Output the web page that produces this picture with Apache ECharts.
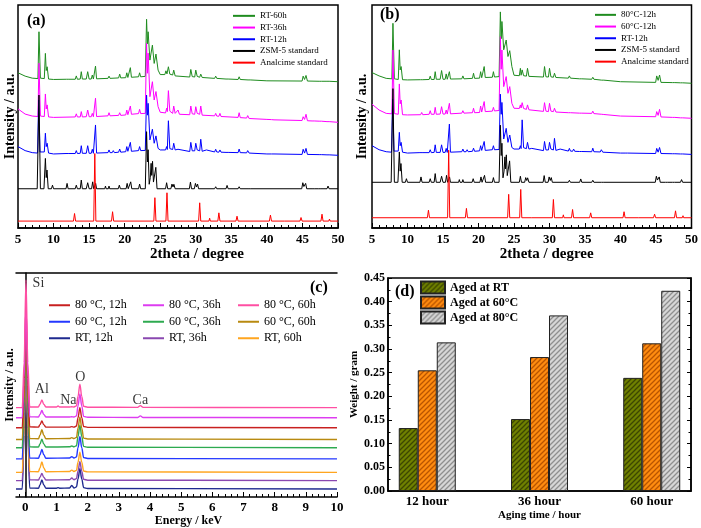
<!DOCTYPE html>
<html><head><meta charset="utf-8">
<script src="https://cdn.jsdelivr.net/npm/echarts@6/dist/echarts.min.js"></script>
<style>html,body{margin:0;padding:0;background:#fff}#c{width:701px;height:528px}</style>
</head><body><div id="c"></div>
<script>
const FONT = 'Liberation Serif';

// ---------- (a)/(b) XRD patterns: [2theta, relative intensity] ----------
const xrdTicks = [5,10,15,20,25,30,35,40,45,50];
const analcime = [[5,0],[12.8,0],[12.95,3.4],[13.1,0],[15.65,0],[15.8,30.3],[15.95,0],[18.15,0],[18.3,4.2],[18.45,0],[24.1,0],[24.25,10.5],[24.4,0],[25.8,0],[25.95,12.7],[26.1,0],[27.5,0],[27.6,0.7],[27.7,0],[30.4,0],[30.55,8.2],[30.7,0],[31.85,0],[31.95,1.3],[32.05,0],[33.1,0],[33.25,3.7],[33.4,0],[35.65,0],[35.8,2.2],[35.95,0],[40.35,0],[40.5,2.7],[40.65,0],[42.5,0],[42.6,0.4],[42.7,0],[44.65,0],[44.8,1.6],[44.95,0],[47.6,0],[47.75,3.1],[47.9,0],[48.7,0],[48.8,0.9],[48.9,0],[50,0]];
const zsm5 = [[5,0],[7.7,0],[7.95,42],[8.15,0],[8.65,0],[8.85,13.6],[8.97,5],[9.08,8.4],[9.25,0],[9.7,0],[9.85,1.6],[10,0],[11.75,0],[11.9,2.4],[12.05,0],[13.05,0],[13.2,1.6],[13.35,0],[13.75,0],[13.9,3.9],[14.05,0],[14.6,0],[14.8,2.7],[15.0,0],[15.35,0],[15.5,3.1],[15.65,0],[15.8,0],[15.92,2.4],[16.05,0],[17.2,0],[17.3,1.2],[17.4,0],[17.7,0],[17.8,1.2],[17.9,0],[19.1,0],[19.25,1.6],[19.4,0],[20.2,0],[20.35,2.4],[20.5,0],[20.7,0],[20.85,3.1],[21.0,0],[21.95,0],[22.1,2.1],[22.25,0],[22.9,0],[23.08,25.6],[23.2,12],[23.3,17.5],[23.45,2],[23.6,5],[23.72,11.4],[23.8,6],[23.92,12.3],[24.05,3],[24.25,3],[24.38,9.6],[24.55,0],[25.75,0],[25.9,2.7],[26.05,0],[26.5,0],[26.65,2.1],[26.8,0.8],[26.92,2],[27.1,0],[29.1,0],[29.25,3],[29.4,0],[29.8,0],[29.95,2.4],[30.1,0.8],[30.25,2.1],[30.4,0],[32.65,0],[32.8,0.9],[32.95,0],[34.25,0],[34.4,1.5],[34.55,0],[35.95,0],[36.1,0.9],[36.25,0],[37.35,0],[37.5,0.7],[37.65,0],[44.9,0],[45.05,2.7],[45.2,1],[45.45,2.4],[45.6,0],[46.35,0],[46.5,0.6],[46.65,0],[47.3,0],[47.45,0.6],[47.6,0],[48.45,0],[48.6,1.2],[48.75,0],[50,0]];
const rt12h = [[5,3.9],[6,2.1],[7,1.2],[7.75,1.0],[7.9,24.8],[8.1,1.5],[8.7,1.5],[8.85,9.9],[8.97,3.9],[9.1,5.4],[9.3,1],[10,0.6],[11.75,0.8],[11.9,1.2],[12.05,0.8],[13.05,0.8],[13.2,2.1],[13.35,0.8],[13.75,0.9],[13.9,4.3],[14.05,0.9],[14.6,0.9],[14.8,4.3],[15,0.9],[15.3,0.9],[15.45,2.7],[15.6,0.9],[15.75,0.9],[15.9,13.6],[16.05,1],[17.65,1.2],[17.8,2.4],[17.95,1.2],[18.25,1.2],[18.4,2.1],[18.55,1.2],[19.15,1.4],[19.3,2.8],[19.45,1.4],[20.15,1.6],[20.3,3.9],[20.45,1.8],[20.65,1.8],[20.8,5.8],[20.95,1.8],[21.95,2.1],[22.1,3.9],[22.25,2.1],[22.9,2.2],[23.08,27],[23.2,18],[23.3,23.3],[23.55,6.9],[23.9,11.7],[24.15,5.4],[24.4,8.7],[24.7,3.1],[25,2.4],[25.75,2.4],[25.9,3.9],[26.0,2.6],[26.15,15.5],[26.35,3],[26.75,2.6],[26.9,5.4],[27.1,2.4],[27.5,2.7],[27.7,2],[29.15,1.7],[29.3,5.8],[29.5,2],[29.85,2],[30.0,5.4],[30.2,2.4],[30.55,2],[30.7,7.2],[30.9,1.8],[31.5,2.4],[31.7,1.6],[32.65,1.5],[32.8,2.7],[32.95,1.5],[33.25,1.4],[33.4,2.4],[33.55,1.4],[34.25,1.3],[34.4,2.1],[34.55,1.3],[35.95,1.2],[36.1,2.8],[36.25,1.2],[37.15,1.1],[37.3,2.1],[37.5,1.0],[40,0.6],[40.65,0.6],[40.8,1.2],[41,0.6],[44.95,0.4],[45.1,2.7],[45.3,1],[45.5,3.1],[45.7,0.4],[47.35,0.3],[47.5,0.6],[47.65,0.3],[48.45,0.2],[48.6,0.6],[48.75,0.2],[50,0]];
const rt36h = [[5,6],[6,3.7],[7,2.8],[7.8,2.6],[7.95,26.5],[8.15,2.8],[8.7,2.6],[8.85,12.7],[8.97,6],[9.1,7.8],[9.3,2.4],[10,2.2],[13.05,2.4],[13.2,3.8],[13.35,2.4],[13.75,2.4],[13.9,4.8],[14.05,2.4],[14.6,2.5],[14.8,5.5],[15,2.5],[15.3,2.5],[15.45,4],[15.6,2.5],[15.75,2.5],[15.9,10.8],[16.05,2.6],[17.65,2.9],[17.8,4.3],[17.95,2.9],[19.15,3.1],[19.3,4.3],[19.45,3.1],[20.15,3.3],[20.3,5.5],[20.45,3.4],[20.65,3.4],[20.8,7.3],[20.95,3.6],[21.95,3.9],[22.1,5.8],[22.25,3.9],[22.9,4],[23.08,35.4],[23.2,22],[23.3,31],[23.55,11.5],[23.9,18.2],[24.15,10],[24.4,13.8],[24.7,7],[25,4.5],[25.75,4.2],[25.9,6.3],[26.0,4.8],[26.15,14.2],[26.35,5],[26.75,4],[26.9,7.3],[27.1,4],[27.5,5.5],[27.7,3.6],[29.15,3.4],[29.3,7.3],[29.5,3.8],[29.85,3.6],[30.0,7],[30.2,4],[30.55,3.6],[30.7,7.3],[30.9,3.2],[32.65,2.9],[32.8,4],[32.95,2.8],[33.25,2.7],[33.4,4],[33.55,2.6],[35.95,2.2],[36.1,4.3],[36.25,2.1],[37.15,1.9],[37.3,3],[37.5,1.7],[40,1.3],[40.65,1.2],[40.8,1.8],[41,1.1],[44.95,0.8],[45.1,2.5],[45.3,1.3],[45.5,3.6],[45.7,0.7],[46.35,0.6],[46.5,1.1],[46.65,0.6],[47.35,0.5],[47.5,1],[47.65,0.5],[48.45,0.3],[48.6,0.8],[48.75,0.3],[50,0]];
const rt60h = [[5,4],[6,2.5],[7,1.6],[7.8,1.4],[7.95,22.4],[8.15,1.6],[8.7,1.4],[8.85,12.7],[8.97,5],[9.1,6.7],[9.3,1.2],[10,1],[11.85,1.1],[12,1.8],[12.15,1.1],[13.05,1.1],[13.2,2.6],[13.35,1.1],[13.75,1.2],[13.9,4.5],[14.05,1.2],[14.6,1.2],[14.8,4.5],[15,1.2],[15.3,1.2],[15.45,3],[15.6,1.2],[15.75,1.3],[15.9,7],[16.05,1.3],[17.65,1.5],[17.8,2.5],[17.95,1.5],[19.15,1.7],[19.3,3.4],[19.45,1.7],[20.15,1.8],[20.3,4],[20.45,1.9],[20.65,1.9],[20.8,6.3],[20.95,2],[21.95,2.2],[22.1,4],[22.25,2.2],[22.9,2.4],[23.08,28],[23.2,17],[23.3,22.4],[23.55,9.7],[23.9,16.4],[24.15,8.2],[24.4,12.4],[24.7,5.2],[25,3.2],[25.65,3.2],[25.8,4.9],[25.95,3.5],[26.15,6.7],[26.35,3.4],[26.75,3],[26.9,5.2],[27.1,2.6],[29.15,2.1],[29.3,5.5],[29.5,2.3],[29.85,2.1],[30.0,5.2],[30.2,2.4],[30.55,2],[30.7,3.4],[30.9,1.9],[32.65,1.5],[32.8,2.5],[32.95,1.5],[34.25,1.2],[34.4,1.9],[34.55,1.2],[35.95,1],[36.1,2.2],[36.25,1],[37.35,0.8],[37.5,1.5],[37.65,0.8],[40,0.4],[44.95,0.3],[45.1,2.5],[45.3,1],[45.5,2.8],[45.7,0.3],[47.35,0.2],[47.5,0.7],[47.65,0.2],[48.45,0.2],[48.6,0.7],[48.75,0.2],[50,0]];
const t60_12h = [[5,6.3],[6,3.7],[7,2.2],[7.8,2],[7.95,30.6],[8.15,2.1],[8.7,1.8],[8.85,15.4],[8.97,6.5],[9.1,8.2],[9.3,1.6],[10,1.5],[11.85,1.6],[12,2.6],[12.15,1.6],[13.05,1.8],[13.2,3.4],[13.35,1.8],[13.75,1.8],[13.9,4.9],[14.05,1.8],[14.6,1.9],[14.8,5.2],[15,1.9],[15.3,1.9],[15.45,3.7],[15.6,1.9],[15.75,1.9],[15.9,6.7],[16.05,2],[17.65,2.3],[17.8,3.4],[17.95,2.3],[19.15,2.5],[19.3,4.5],[19.45,2.5],[20.15,2.6],[20.3,5.5],[20.45,2.8],[20.65,2.8],[20.8,7.5],[20.95,3],[21.95,3.2],[22.1,4.9],[22.25,3.3],[22.9,3.5],[23.08,36.6],[23.2,22],[23.3,30.6],[23.55,14.2],[23.9,18.7],[24.15,11.2],[24.4,14.2],[24.7,6.7],[25,4.5],[25.75,4.4],[25.9,6],[26.0,4.6],[26.15,7],[26.35,4.4],[26.75,4],[26.9,6],[27.1,3.8],[29.15,3.1],[29.3,7],[29.5,3.2],[29.85,3],[30.0,6.7],[30.2,3.2],[30.55,3],[30.7,4.5],[30.9,2.8],[32.65,2.5],[32.8,3.3],[32.95,2.5],[34.25,2.3],[34.4,2.8],[34.55,2.3],[35.95,2.2],[36.1,3.2],[36.25,2.1],[37.35,1.8],[37.5,2.4],[37.65,1.7],[40,1],[44.95,0.7],[45.1,3],[45.3,1.3],[45.5,4],[45.7,0.6],[47.35,0.4],[47.5,1],[47.65,0.4],[48.45,0.2],[48.6,0.7],[48.75,0.2],[50,0]];
const t80_12h = [[5,4.8],[6,3.3],[7,2.2],[7.8,2],[7.95,26.9],[8.15,2],[8.7,1.7],[8.85,15],[8.97,6],[9.1,7.5],[9.3,1.6],[10,1.5],[11.85,1.6],[12,2.4],[12.15,1.6],[13.05,1.7],[13.2,3.2],[13.35,1.7],[13.75,1.7],[13.9,5.2],[14.05,1.8],[14.6,1.8],[14.8,5.7],[15,1.8],[15.3,1.8],[15.45,4.2],[15.6,1.8],[15.75,1.8],[15.9,5.2],[16.05,1.9],[17.65,2],[17.8,3.3],[17.95,2],[19.15,2.2],[19.3,4.5],[19.45,2.2],[20.15,2.3],[20.3,5.2],[20.45,2.5],[20.65,2.5],[20.8,7.5],[20.95,2.6],[21.95,2.7],[22.1,5.2],[22.25,2.8],[22.9,3],[23.08,32],[23.2,20],[23.3,27.7],[23.55,15],[23.9,19.4],[24.15,12],[24.4,14.6],[24.7,7.5],[25,3.6],[25.75,3.4],[25.9,6.7],[26.0,3.6],[26.15,6],[26.35,3.4],[26.75,3.2],[26.9,6.7],[27.1,3.1],[29.15,2.8],[29.3,7.5],[29.5,2.9],[29.85,2.8],[30.0,6.7],[30.2,2.9],[30.55,2.7],[30.7,4.5],[30.9,2.6],[32.65,2.3],[32.8,3.3],[32.95,2.3],[34.25,2],[34.4,2.7],[34.55,2],[35.95,1.8],[36.1,2.7],[36.25,1.8],[37.35,1.4],[37.5,2.2],[37.65,1.4],[40,0.7],[44.95,0.4],[45.1,3.3],[45.3,1.3],[45.5,3.7],[45.7,0.4],[47.35,0.3],[47.5,0.7],[47.65,0.3],[48.45,0.2],[48.6,0.7],[48.75,0.2],[50,0]];

const namesA = ['RT-60h','RT-36h','RT-12h','ZSM-5 standard','Analcime standard'];
const offsetsA = [65.6, 47.4, 32.6, 17.6, 3.1];
const namesB = ['80°C-12h','60°C-12h','RT-12h','ZSM-5 standard','Analcime standard'];
const offsetsB = [64.9, 49.2, 33.0, 20.5, 4.6];
const xrdColors = ['#1f8c1f','#ff00ff','#0000ff','#000000','#ff0000'];

// ---------- (c) EDS spectra: [energy keV, relative counts] ----------
const energyTicks = [0,1,2,3,4,5,6,7,8,9,10];
const edsRT12 = [[-0.3,0],[-0.1,0],[-0.04,24],[0.02,68],[0.08,24],[0.14,0.4],[0.42,0.3],[0.47,1.8],[0.53,4],[0.59,1.8],[0.66,0.3],[1.0,0.3],[1.05,0.6],[1.1,0.3],[1.42,0.4],[1.49,1.6],[1.56,0.4],[1.64,0.9],[1.69,4.5],[1.75,9],[1.81,4.5],[1.87,0.6],[2.0,0.2],[10,0]];
const edsRT36 = [[-0.3,0],[-0.1,0],[-0.04,22],[0.02,62],[0.08,22],[0.14,0.4],[0.42,0.3],[0.47,1.5],[0.53,3.2],[0.59,1.5],[0.66,0.3],[1.42,0.4],[1.49,1.2],[1.56,0.4],[1.64,0.9],[1.69,4.2],[1.75,8.5],[1.81,4.2],[1.87,0.6],[2.0,0.2],[10,0]];
const edsRT60 = [[-0.3,0],[-0.1,0],[-0.04,20],[0.02,58],[0.08,20],[0.14,0.4],[0.42,0.3],[0.47,2],[0.53,4.6],[0.59,2],[0.66,0.3],[1.42,0.4],[1.49,1],[1.56,0.4],[1.64,0.9],[1.69,4.5],[1.75,9],[1.81,4.5],[1.87,0.6],[2.0,0.2],[10,0]];
const eds60_12 = [[-0.3,0],[-0.1,0],[-0.04,21],[0.02,60],[0.08,21],[0.14,0.4],[0.42,0.3],[0.47,1.9],[0.53,4.2],[0.59,1.9],[0.66,0.3],[1.42,0.4],[1.49,1],[1.56,0.4],[1.64,0.9],[1.69,5],[1.75,10],[1.81,5],[1.87,0.6],[2.0,0.2],[10,0]];
const eds60_36 = [[-0.3,0],[-0.1,0],[-0.04,19],[0.02,55],[0.08,19],[0.14,0.4],[0.42,0.3],[0.47,1.7],[0.53,3.8],[0.59,1.7],[0.66,0.3],[1.42,0.4],[1.49,0.8],[1.56,0.4],[1.64,0.9],[1.69,5],[1.75,10],[1.81,5],[1.87,0.6],[2.0,0.2],[10,0]];
const eds60_60 = [[-0.3,0],[-0.1,0],[-0.04,18],[0.02,52],[0.08,18],[0.14,0.4],[0.42,0.3],[0.47,1.9],[0.53,4.3],[0.59,1.9],[0.66,0.3],[1.42,0.4],[1.49,0.8],[1.56,0.4],[1.64,0.9],[1.69,5],[1.75,10],[1.81,5],[1.87,0.6],[2.0,0.2],[10,0]];
const eds80_12 = [[-0.3,0],[-0.1,0],[-0.04,19],[0.02,55],[0.08,19],[0.14,0.4],[0.42,0.3],[0.47,1.4],[0.53,3],[0.59,1.4],[0.66,0.3],[1.42,0.3],[1.49,0.5],[1.56,0.3],[1.64,0.8],[1.69,4.5],[1.75,9],[1.81,4.5],[1.87,0.6],[2.0,0.2],[10,0]];
const eds80_36 = [[-0.3,0],[-0.1,0],[-0.04,18],[0.02,50],[0.08,18],[0.14,0.4],[0.42,0.3],[0.47,1.5],[0.53,3.2],[0.59,1.5],[0.66,0.3],[1.42,0.3],[1.49,0.4],[1.56,0.3],[1.64,0.8],[1.69,5.3],[1.75,10.6],[1.81,5.3],[1.87,0.6],[2.0,0.2],[3.6,0.1],[3.69,0.8],[3.78,0.1],[10,0]];
const eds80_60 = [[-0.3,0],[-0.1,0],[-0.04,20],[0.02,57],[0.08,20],[0.14,0.3],[0.42,0.3],[0.47,1.5],[0.53,3.4],[0.59,1.5],[0.66,0.3],[1.0,0.3],[1.05,0.7],[1.1,0.3],[1.42,0.3],[1.49,0.4],[1.56,0.3],[1.64,0.8],[1.69,5],[1.75,10.5],[1.81,5],[1.87,0.6],[2.0,0.2],[3.6,0.1],[3.69,0.9],[3.78,0.1],[10,0]];
const edsNames = ['RT, 12h','RT, 36h','RT, 60h','60 °C, 12h','60 °C, 36h','60 °C, 60h','80 °C, 12h','80 °C, 36h','80 °C, 60h'];
const edsOffsets = [3.6, 7.3, 11, 17, 22, 25.7, 30.9, 35.4, 39.9];
const edsColors = ['#1f2a8f','#8a48b0','#ffa51f','#2438ff','#2eaa50','#b88a10','#c82020','#dd3cf0','#ff4fa3'];
const elemNames = ['Si','Al','Na','O','Ca'];
const elemX = [0.42, 0.53, 1.38, 1.76, 3.69];
const elemY = [95.4, 48, 43, 53.4, 43];

// ---------- (d) bar data ----------
const ageCats = ['12 hour','36 hour','60 hour'];
const ageX = [1,2,3];
const weightRT = [0.133,0.152,0.239];
const weight60 = [0.255,0.283,0.312];
const weight80 = [0.314,0.371,0.423];
const barNames = ['Aged at RT','Aged at 60°C','Aged at 80°C'];
const weightTicks = [0,0.05,0.10,0.15,0.20,0.25,0.30,0.35,0.40,0.45];

function hatch(bg, fg){
  const s = 5, c = document.createElement('canvas'); c.width = s; c.height = s;
  const g = c.getContext('2d'); g.fillStyle = bg; g.fillRect(0,0,s,s);
  g.strokeStyle = fg; g.lineWidth = 1.3; g.beginPath();
  g.moveTo(-1,s+1); g.lineTo(s+1,-1);
  g.moveTo(-1,1); g.lineTo(1,-1);
  g.moveTo(s-1,s+1); g.lineTo(s+1,s-1);
  g.stroke();
  return {image: c, repeat: 'repeat'};
}
const barFills = [hatch('#6f8000','#3c4600'), hatch('#ff8c10','#b85400'), hatch('#d6d6d6','#8e8e8e')];

const black = '#000';
const tickStyle = {lineStyle:{color:black, width:1}};
function xrdX(gi, padLeft){
  return {gridIndex:gi, type:'value', min:5, max:50, interval:5,
    axisLine:{show:true, lineStyle:{color:black, width:1.5}},
    axisTick:{show:true, inside:true, length:5, lineStyle:{color:black}},
    minorTick:{show:true, splitNumber:5, length:3, lineStyle:{color:black}},
    splitLine:{show:false},
    axisLabel:{margin:5, color:black, fontFamily:FONT, fontWeight:'bold', fontSize:13},
    name:'2theta / degree', nameLocation:'middle', nameGap:15,
    nameTextStyle:{color:black, fontFamily:FONT, fontWeight:'bold', fontSize:15, padding:[0,0,0,padLeft]}};
}
function xrdY(gi, gap){
  return {gridIndex:gi, type:'value', min:0, max:100, axisLine:{show:false}, axisTick:{show:false},
    axisLabel:{show:false}, splitLine:{show:false},
    name:'Intensity / a.u.', nameLocation:'middle', nameGap:gap,
    nameTextStyle:{color:black, fontFamily:FONT, fontWeight:'bold', fontSize:14}};
}

const minorEnergy = [];
for (let i = -1; i <= 50; i++) { const v = +(i*0.2).toFixed(1); if (v > -0.3 && v <= 10 && Math.abs(v - Math.round(v)) > 1e-6) minorEnergy.push(v); }

const series = [];
[rt60h, rt36h, rt12h, zsm5, analcime].forEach((pat, i) => {
  series.push({type:'line', name:namesA[i], xAxisIndex:0, yAxisIndex:0, symbol:'none', silent:true,
    data: pat.map(p => [p[0], p[1] + offsetsA[i]]),
    lineStyle:{width:1, color:xrdColors[i]}, itemStyle:{color:xrdColors[i]}});
});
[t80_12h, t60_12h, rt12h, zsm5, analcime].forEach((pat, i) => {
  series.push({type:'line', name:namesB[i], xAxisIndex:1, yAxisIndex:1, symbol:'none', silent:true,
    data: pat.map(p => [p[0], p[1] + offsetsB[i]]),
    lineStyle:{width:1, color:xrdColors[i]}, itemStyle:{color:xrdColors[i]}});
});
[edsRT12, edsRT36, edsRT60, eds60_12, eds60_36, eds60_60, eds80_12, eds80_36, eds80_60].forEach((pat, i) => {
  series.push({type:'line', name:edsNames[i], xAxisIndex:2, yAxisIndex:2, symbol:'none', silent:true,
    smooth:0.35, smoothMonotone:'x',
    data: pat.map(p => [p[0], p[1] + edsOffsets[i]]),
    lineStyle:{width:1.4, color:edsColors[i]}, itemStyle:{color:edsColors[i]}});
});
series.push({type:'scatter', xAxisIndex:2, yAxisIndex:2, symbolSize:1, silent:true,
  itemStyle:{color:'rgba(0,0,0,0)'},
  data: elemNames.map((n, i) => ({name:n, value:[elemX[i], elemY[i]]})),
  label:{show:true, position:'inside', formatter:p => p.name, color:black, fontFamily:FONT, fontSize:14}});
[weightRT, weight60, weight80].forEach((vals, i) => {
  series.push({type:'bar', name:barNames[i], xAxisIndex:5, yAxisIndex:3, barWidth:19, barGap:'0%',
    data: vals.map((v, j) => [ageX[j], v]),
    itemStyle:{color:barFills[i], borderColor:'#222', borderWidth:1}});
});

const legendText = (fs, lh, bold) => ({color:black, fontFamily:FONT, fontSize:fs, lineHeight:lh, fontWeight: bold ? 'bold' : 'normal'});
const lineLegend = (left, top, data, fs, lh, w) => ({left, top, orient:'vertical', padding:0, itemGap:0,
  itemWidth:w, itemHeight:2, icon:'rect', selectedMode:false, data, textStyle:legendText(fs, lh, false)});

const option = {
  animation:false,
  backgroundColor:'#fff',
  grid:[
    {left:18, top:5, width:320, height:223, show:true, borderColor:black, borderWidth:1.5, backgroundColor:'transparent'},
    {left:372, top:5, width:320, height:223, show:true, borderColor:black, borderWidth:1.5, backgroundColor:'transparent'},
    {left:16, top:273, width:321, height:224},
    {left:388, top:278, width:303, height:213, show:true, borderColor:black, borderWidth:1.5, backgroundColor:'transparent'}
  ],
  xAxis:[
    xrdX(0, 38),
    xrdX(1, 30),
    {gridIndex:2, type:'value', min:-0.3, max:10,
      axisLine:{show:true, lineStyle:{color:black, width:1.5}},
      axisTick:{show:true, inside:true, length:5, customValues:energyTicks, lineStyle:{color:black}},
      splitLine:{show:false},
      axisLabel:{customValues:energyTicks, margin:4, color:black, fontFamily:FONT, fontWeight:'bold', fontSize:13},
      name:'Energy / keV', nameLocation:'middle', nameGap:15,
      nameTextStyle:{color:black, fontFamily:FONT, fontWeight:'bold', fontSize:12, padding:[0,0,0,24]}},
    {gridIndex:2, type:'value', min:-0.3, max:10, position:'bottom',
      axisLine:{show:false}, splitLine:{show:false}, axisLabel:{show:false},
      axisTick:{show:true, inside:true, length:3, customValues:minorEnergy, lineStyle:{color:black}}},
    {gridIndex:2, type:'value', min:-0.3, max:10, position:'top',
      axisLine:{show:true, lineStyle:{color:black, width:1.5}}, splitLine:{show:false},
      axisLabel:{show:false}, axisTick:{show:false}},
    {gridIndex:3, type:'value', min:0.65, max:3.35,
      axisLine:{show:true, lineStyle:{color:black, width:1.5}}, splitLine:{show:false},
      axisTick:{show:false},
      axisLabel:{customValues:ageX, formatter:v => ageCats[ageX.indexOf(v)], margin:4,
        color:black, fontFamily:FONT, fontWeight:'bold', fontSize:13},
      name:'Aging time / hour', nameLocation:'middle', nameGap:19,
      nameTextStyle:{color:black, fontFamily:FONT, fontWeight:'bold', fontSize:11}}
  ],
  yAxis:[
    xrdY(0, 1),
    xrdY(1, 3),
    {gridIndex:2, type:'value', min:0, max:100, axisLine:{show:true, lineStyle:{color:black, width:1.5}},
      axisTick:{show:false}, axisLabel:{show:false}, splitLine:{show:false},
      name:'Intensity / a.u.', nameLocation:'middle', nameGap:0,
      nameTextStyle:{color:black, fontFamily:FONT, fontWeight:'bold', fontSize:12}},
    {gridIndex:3, type:'value', min:0, max:0.45, interval:0.05,
      axisLine:{show:true, lineStyle:{color:black, width:1.5}},
      axisTick:{show:true, inside:true, length:4, lineStyle:{color:black}},
      minorTick:{show:true, splitNumber:2, length:2.5, lineStyle:{color:black}},
      splitLine:{show:false},
      axisLabel:{margin:3, formatter:v => v.toFixed(2), color:black, fontFamily:FONT, fontWeight:'bold', fontSize:12},
      name:'Weight / gram', nameLocation:'middle', nameGap:25,
      nameTextStyle:{color:black, fontFamily:FONT, fontWeight:'bold', fontSize:11}},
    {gridIndex:3, type:'value', min:0, max:0.45, interval:0.05, position:'right',
      axisLine:{show:true, lineStyle:{color:black, width:1.5}},
      axisTick:{show:true, inside:true, length:4, lineStyle:{color:black}},
      minorTick:{show:true, splitNumber:2, length:2.5, lineStyle:{color:black}},
      splitLine:{show:false}, axisLabel:{show:false}}
  ],
  legend:[
    lineLegend(233, 10, namesA, 9, 11.7, 22),
    lineLegend(595, 9, namesB, 9, 11.7, 21),
    {left:49, top:297, orient:'vertical', padding:0, itemGap:0, itemWidth:21, itemHeight:2, icon:'rect', selectedMode:false,
      data:['80 °C, 12h','60 °C, 12h','RT, 12h'], textStyle:legendText(12, 16.5, false)},
    {left:143, top:297, orient:'vertical', padding:0, itemGap:0, itemWidth:21, itemHeight:2, icon:'rect', selectedMode:false,
      data:['80 °C, 36h','60 °C, 36h','RT, 36h'], textStyle:legendText(12, 16.5, false)},
    {left:238, top:297, orient:'vertical', padding:0, itemGap:0, itemWidth:21, itemHeight:2, icon:'rect', selectedMode:false,
      data:['80 °C, 60h','60 °C, 60h','RT, 60h'], textStyle:legendText(12, 16.5, false)},
    {left:420, top:280.5, orient:'vertical', padding:0, itemGap:1, itemWidth:24, itemHeight:12, icon:'rect', selectedMode:false,
      data:barNames, textStyle:legendText(12, 12, true)}
  ],
  graphic:[
    {type:'text', left:27, top:13, style:{text:'(a)', font:'bold 16px "Liberation Serif"', fill:black}},
    {type:'text', left:380, top:7, style:{text:'(b)', font:'bold 16px "Liberation Serif"', fill:black}},
    {type:'text', left:310, top:280, style:{text:'(c)', font:'bold 16px "Liberation Serif"', fill:black}},
    {type:'text', left:395, top:284, style:{text:'(d)', font:'bold 16px "Liberation Serif"', fill:black}}
  ],
  series
};
const chart = echarts.init(document.getElementById('c'), null, {renderer:'canvas'});
chart.setOption(option);
</script></body></html>
